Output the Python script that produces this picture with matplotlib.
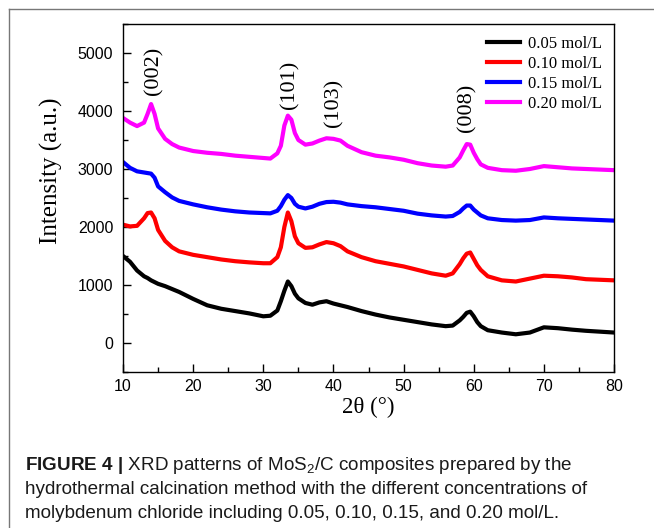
import matplotlib
matplotlib.use("Agg")
import matplotlib.pyplot as plt
from matplotlib.lines import Line2D
from matplotlib.ticker import MultipleLocator

# 2theta grid (deg) and intensities
two_theta = [10, 11, 12, 13, 13.5, 14, 14.5, 15, 16, 17, 18, 20, 22, 24, 26, 28, 30, 31, 32,
             32.5, 33, 33.5, 34, 34.5, 35, 36, 37, 38, 39, 40, 41, 42, 44, 46, 48, 50, 52,
             54, 56, 57, 58, 58.5, 59, 59.5, 60, 60.5, 61, 62, 64, 66, 68, 70, 72, 74, 76,
             78, 80]

i_005 = [1500, 1400, 1250, 1150, 1120, 1080, 1050, 1020, 980, 930, 880, 760, 650, 590, 550,
         510, 460, 470, 560, 720, 900, 1060, 980, 850, 770, 690, 660, 700, 720, 680, 650,
         620, 550, 490, 440, 400, 360, 320, 290, 300, 390, 450, 520, 540, 460, 360, 290,
         220, 180, 150, 180, 270, 255, 230, 210, 195, 180]
i_010 = [2040, 2010, 2020, 2150, 2240, 2250, 2150, 1950, 1760, 1650, 1580, 1520, 1480, 1440,
         1410, 1390, 1375, 1375, 1480, 1650, 2000, 2250, 2100, 1840, 1720, 1640, 1650, 1700,
         1740, 1720, 1670, 1580, 1480, 1410, 1365, 1320, 1260, 1200, 1160, 1200, 1360, 1460,
         1540, 1560, 1450, 1340, 1260, 1150, 1080, 1060, 1110, 1160, 1150, 1130, 1100, 1090,
         1080]
i_015 = [3120, 3020, 2960, 2940, 2930, 2920, 2850, 2700, 2600, 2510, 2450, 2390, 2340, 2300,
         2270, 2250, 2240, 2235, 2280, 2360, 2470, 2550, 2500, 2400, 2350, 2320, 2350, 2400,
         2430, 2435, 2420, 2390, 2360, 2340, 2310, 2280, 2230, 2200, 2180, 2190, 2260, 2320,
         2370, 2370, 2300, 2250, 2200, 2150, 2120, 2110, 2120, 2165, 2150, 2140, 2130, 2120,
         2110]
i_020 = [3880, 3800, 3740, 3800, 3950, 4120, 3950, 3700, 3520, 3430, 3370, 3310, 3280, 3260,
         3230, 3210, 3190, 3180, 3270, 3400, 3750, 3920, 3850, 3620, 3500, 3420, 3440, 3490,
         3530, 3520, 3490, 3400, 3290, 3230, 3200, 3160, 3100, 3060, 3040, 3060, 3200, 3320,
         3430, 3420, 3280, 3170, 3080, 3020, 2980, 2970, 3000, 3050, 3030, 3010, 3000, 2990,
         2980]

labels = ["0.05 mol/L", "0.10 mol/L", "0.15 mol/L", "0.20 mol/L"]
colors = ["#000000", "#ff0000", "#0000ff", "#ff00ff"]

peak_labels = ["(002)", "(101)", "(103)", "(008)"]
peak_x = [14.4, 33.8, 40.0, 59.0]
peak_y = [4690, 4450, 4140, 4050]

SERIF = "Liberation Serif"
SANS = "Liberation Sans"
plt.rcParams.update({
    "font.family": SANS,
    "mathtext.fontset": "custom",
    "mathtext.rm": SANS,
    "mathtext.bf": SANS + ":bold",
    "mathtext.it": SANS + ":italic",
})

fig = plt.figure(figsize=(6.54, 5.28), dpi=100)
ax = fig.add_axes([0.1881, 0.2955, 0.7508, 0.659])

for ys, lab, c in zip([i_005, i_010, i_015, i_020], labels, colors):
    ax.plot(two_theta, ys, color=c, lw=3.0, label=lab, solid_joinstyle="round")

for t, x, y in zip(peak_labels, peak_x, peak_y):
    ax.text(x, y, t, rotation=90, ha="center", va="center",
            fontsize=16, family=SERIF)

ax.set_xlim(10, 80)
ax.set_ylim(-500, 5500)
ax.xaxis.set_major_locator(MultipleLocator(10))
ax.xaxis.set_minor_locator(MultipleLocator(5))
ax.yaxis.set_major_locator(MultipleLocator(1000))
ax.yaxis.set_minor_locator(MultipleLocator(500))
ax.tick_params(which="both", direction="in", top=False, right=False, width=1.0)
ax.tick_params(which="major", length=6, labelsize=11.5)
ax.tick_params(axis="y", which="major", pad=7)
ax.tick_params(axis="x", which="major", pad=5)
ax.tick_params(which="minor", length=3.5)
for sp in ax.spines.values():
    sp.set_linewidth(1.0)

ax.set_xlabel("2θ (°)", family=SERIF, fontsize=16.5, labelpad=2)
ax.set_ylabel("Intensity (a.u.)", family=SERIF, fontsize=18)
ax.yaxis.set_label_coords(-0.123, 0.578)

ax.legend(loc="upper right", frameon=False, prop={"family": SERIF, "size": 12},
          handlelength=2.0, handletextpad=0.5, labelspacing=0.25,
          borderaxespad=0.3, bbox_to_anchor=(1.0, 1.0))

# grey frame round the figure panel
fig.add_artist(Line2D([9 / 654, 1.0], [1 - 9 / 528, 1 - 9 / 528], color="#777777", lw=1.0))
fig.add_artist(Line2D([9 / 654, 9 / 654], [0.0, 1 - 9 / 528], color="#777777", lw=1.0))

caption = [
    r"$\bf{FIGURE\ 4\ |}$ XRD patterns of MoS$_2$/C composites prepared by the",
    "hydrothermal calcination method with the different concentrations of",
    "molybdenum chloride including 0.05, 0.10, 0.15, and 0.20 mol/L.",
]
for k, line in enumerate(caption):
    fig.text(25 / 654, 1 - (465 + 24.5 * k) / 528, line, fontsize=13.6,
             family=SANS, color="#1a1a1a", ha="left", va="center")

fig.savefig("out.png", dpi=100)
